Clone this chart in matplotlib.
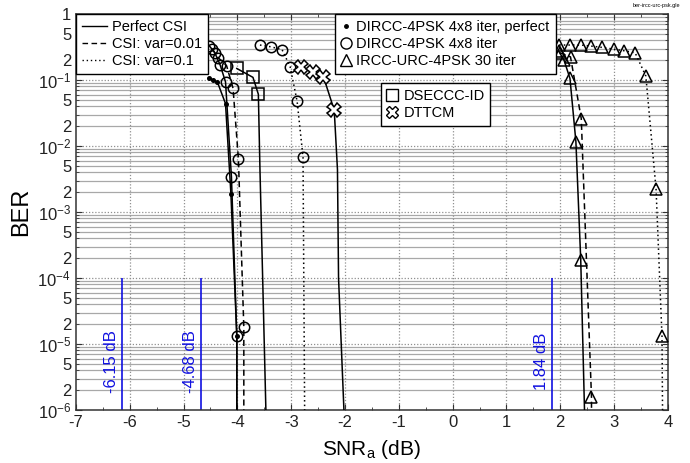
"""BER vs SNR_a for DIRCC / DSECCC-ID / DTTCM / IRCC-URC schemes."""
import matplotlib
matplotlib.use("Agg")
import matplotlib.pyplot as plt
from matplotlib.lines import Line2D

plt.rcParams["font.family"] = ["Liberation Sans", "DejaVu Sans"]
plt.rcParams["mathtext.fontset"] = "custom"
plt.rcParams["mathtext.rm"] = "Liberation Sans"
plt.rcParams["mathtext.it"] = "Liberation Sans:italic"

# each curve: x (dB), BER; the last points past n_marked are the unmarked tail to the floor
dirp_x = [-4.53, -4.45, -4.37, -4.22, -4.12, -4.01, -4.01]
dirp_ber = [0.107, 0.100, 0.093, 0.044, 1.9e-3, 1.3e-5, 1e-6]
dirp_n = 6

dirc_perf_x = [-4.52, -4.42, -4.32, -4.22, -4.11, -4.01, -4.01]
dirc_perf_ber = [0.33, 0.26, 0.17, 0.094, 3.4e-3, 1.3e-5, 1e-6]
dirc_perf_n = 6

dirc_001_x = [-4.47, -4.36, -4.20, -4.08, -3.98, -3.88, -3.88]
dirc_001_ber = [0.30, 0.22, 0.165, 0.075, 6.3e-3, 1.8e-5, 1e-6]
dirc_001_n = 6

dirc_01_x = [-3.58, -3.38, -3.17, -3.02, -2.89, -2.78, -2.75]
dirc_01_ber = [0.34, 0.32, 0.29, 0.16, 0.048, 6.8e-3, 1e-6]
dirc_01_n = 6

dseccc_x = [-4.01, -3.71, -3.61, -3.58, -3.53, -3.47]
dseccc_ber = [0.15, 0.11, 0.061, 4.4e-3, 1e-4, 1e-6]
dseccc_n = 3

dttcm_x = [-2.81, -2.60, -2.40, -2.20, -2.14, -2.12, -2.02]
dttcm_ber = [0.156, 0.134, 0.112, 0.035, 4.4e-3, 1e-4, 1e-6]
dttcm_n = 4

ircc_perf_x = [1.97, 2.07, 2.18, 2.29, 2.38, 2.45]
ircc_perf_ber = [0.275, 0.20, 0.106, 0.0117, 1.9e-4, 1e-6]
ircc_perf_n = 5

ircc_001_x = [1.99, 2.19, 2.39, 2.58, 2.58]
ircc_001_ber = [0.26, 0.225, 0.026, 1.55e-6, 1e-6]
ircc_001_n = 4

ircc_01_x = [1.98, 2.18, 2.38, 2.58, 2.78, 2.99, 3.19, 3.39, 3.59, 3.78, 3.89, 3.90]
ircc_01_ber = [0.34, 0.34, 0.34, 0.327, 0.313, 0.295, 0.278, 0.26, 0.115, 2.2e-3, 1.3e-5, 1e-6]
ircc_01_n = 11

limit_x = [-6.15, -4.68, 1.84]
limit_labels = ["-6.15 dB", "-4.68 dB", "1.84 dB"]

x_ticks = [-7, -6, -5, -4, -3, -2, -1, 0, 1, 2, 3, 4]
decades = [1e-6, 1e-5, 1e-4, 1e-3, 1e-2, 1e-1, 1]
decade_labels = ["$10^{-6}$", "$10^{-5}$", "$10^{-4}$", "$10^{-3}$", "$10^{-2}$", "$10^{-1}$", "1"]
minor_mults = [2, 3, 4, 5, 6, 7, 8, 9]
labelled_mults = [2, 5]

fig = plt.figure(figsize=(6.9, 4.63), dpi=100)
ax = fig.add_axes([0.110, 0.1145, 0.858, 0.855])
ax.set_yscale("log")
ax.set_xlim(-7, 4)
ax.set_ylim(1e-6, 1)

# grids: solid minor, dotted major (MATLAB look)
minors = [m * d for d in decades[:-1] for m in minor_mults]
for v in minors:
    ax.axhline(v, color="#a8a8a8", lw=0.9, zorder=0)
for v in decades[1:-1]:
    ax.axhline(v, color="#909090", lw=0.9, ls=(0, (1, 1.5)), zorder=0)
for v in x_ticks[1:-1]:
    ax.axvline(v, color="#909090", lw=0.9, ls=(0, (1, 1.5)), zorder=0)

styles = {"solid": "-", "dash": (0, (4, 2.5)), "dot": (0, (1, 2))}


def curve(x, y, n, ls, marker, ms=7.5, mew=1.1):
    ax.plot(x, y, color="black", ls=ls, lw=1.1, zorder=3)
    face = "black" if marker == "." else "none"
    if marker == "X":
        face = "white"
    ax.plot(x[:n], y[:n], ls="none", marker=marker, ms=ms, mfc=face,
            mec="black", mew=mew, zorder=4)


curve(dirc_perf_x, dirc_perf_ber, dirc_perf_n, styles["solid"], "o")
curve(dirc_001_x, dirc_001_ber, dirc_001_n, styles["dash"], "o")
curve(dirc_01_x, dirc_01_ber, dirc_01_n, styles["dot"], "o")
curve(dirp_x, dirp_ber, dirp_n, styles["solid"], ".", ms=5)
curve(dseccc_x, dseccc_ber, dseccc_n, styles["solid"], "s", ms=8)
curve(dttcm_x, dttcm_ber, dttcm_n, styles["solid"], "X", ms=10)
curve(ircc_perf_x, ircc_perf_ber, ircc_perf_n, styles["solid"], "^", ms=9)
curve(ircc_001_x, ircc_001_ber, ircc_001_n, styles["dash"], "^", ms=9)
curve(ircc_01_x, ircc_01_ber, ircc_01_n, styles["dot"], "^", ms=9)

for xv, lab in zip(limit_x, limit_labels):
    ax.vlines(xv, 1e-6, 1e-4, color="#1010e0", lw=1.2, zorder=2)
    ax.text(xv - 0.05, 5.5e-6, lab, color="#1010e0", rotation=90,
            ha="right", va="center", fontsize=12)

ax.set_xticks(x_ticks)
ax.set_xticks([v + 0.5 for v in x_ticks[:-1]], minor=True)
ax.set_xticklabels([str(v) for v in x_ticks])
ax.set_yticks(decades)
ax.set_yticklabels(decade_labels)
ax.set_yticks(minors, minor=True)
ax.set_yticklabels([str(m) if m in labelled_mults else ""
                    for d in decades[:-1] for m in minor_mults], minor=True)
ax.tick_params(which="both", direction="in", top=True, right=True, labelsize=12,
               color="#333333", labelcolor="#222222")
ax.tick_params(which="major", length=4)
ax.tick_params(which="minor", length=2.5)
for s in ax.spines.values():
    s.set_color("#333333")
    s.set_linewidth(1.1)

ax.set_xlabel("SNR$_\\mathrm{a}$ (dB)", fontsize=15, labelpad=6)
ax.set_ylabel("BER", fontsize=17, labelpad=4)

leg_kw = dict(frameon=True, fancybox=False, framealpha=1, edgecolor="black",
              fontsize=10.5, borderpad=0.4, labelspacing=0.2, handletextpad=0.4,
              borderaxespad=0)
h1 = [Line2D([], [], color="black", lw=1, ls=styles["solid"]),
      Line2D([], [], color="black", lw=1, ls=styles["dash"]),
      Line2D([], [], color="black", lw=1, ls=styles["dot"])]
l1 = ax.legend(h1, ["Perfect CSI", "CSI: var=0.01", "CSI: var=0.1"],
               loc="upper left", bbox_to_anchor=(0.0, 1.0), handlelength=1.7, **leg_kw)
l1.get_frame().set_linewidth(1.0)
ax.add_artist(l1)

h2 = [Line2D([], [], ls="none", marker=".", ms=5, color="black"),
      Line2D([], [], ls="none", marker="o", ms=8, mfc="none", mec="black"),
      Line2D([], [], ls="none", marker="^", ms=8, mfc="none", mec="black")]
l2 = ax.legend(h2, ["DIRCC-4PSK 4x8 iter, perfect", "DIRCC-4PSK 4x8 iter",
                    "IRCC-URC-4PSK 30 iter"],
               loc="upper left", bbox_to_anchor=(0.437, 1.0), handlelength=0.7, **leg_kw)
l2.get_frame().set_linewidth(1.0)
ax.add_artist(l2)

h3 = [Line2D([], [], ls="none", marker="s", ms=8, mfc="none", mec="black"),
      Line2D([], [], ls="none", marker="X", ms=9, mfc="white", mec="black")]
l3 = ax.legend(h3, ["DSECCC-ID", "DTTCM"], loc="upper left",
               bbox_to_anchor=(0.516, 0.825), handlelength=0.7, **leg_kw)
l3.get_frame().set_linewidth(1.0)

fig.text(0.985, 0.993, "ber-ircc-urc-psk.gle", fontsize=4, ha="right", va="top")

fig.savefig("out.png", dpi=100)
